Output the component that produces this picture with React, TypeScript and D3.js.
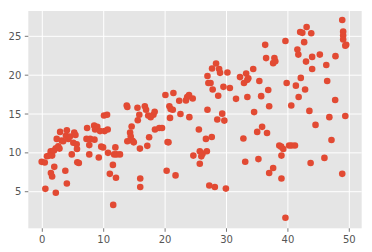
import React from "react";
import * as d3 from "d3";

const xs: number[] = [
  -0.1, 0.4, 0.5, 0.77, 1.1, 1.37, 1.4, 1.6, 1.6, 1.9, 1.95, 2.2, 2.2, 2.35, 2.6, 2.8, 2.9, 3.15, 3.4, 3.75,
  3.85, 4.0, 4.0, 4.25, 4.5, 4.8, 5.05, 5.2, 5.4, 5.6, 5.65, 5.7, 5.95, 7.2, 7.3, 7.65, 7.65, 7.8, 8.45, 8.6,
  8.5, 8.95, 9.2, 9.4, 9.6, 9.9, 10.05, 10.15, 10.55, 10.65, 10.7, 11.0, 11.5, 11.55, 11.7, 11.9, 12.0, 12.1, 12.65,
  13.75, 13.85, 13.85, 14.3, 14.4, 14.55, 14.7, 14.9, 15.5, 15.55, 15.8, 15.9, 15.95, 15.95, 16.7, 16.9, 17.1,
  17.25, 17.4, 17.65, 18.1, 18.3, 18.35, 19.05, 19.5, 20.05, 20.25, 20.4, 20.55, 20.7, 20.9, 20.8, 21.25, 21.35,
  21.7, 22.3, 22.5, 23.4, 23.6, 23.9, 23.95, 24.5, 24.6, 25.5, 25.65, 25.65, 25.9, 26.1, 26.65, 26.8, 26.9, 26.9,
  27.05, 27.4, 27.2, 27.6, 27.65, 27.75, 28.1, 28.3, 28.5, 28.65, 28.8, 28.95, 29.3, 29.5, 29.65, 29.9, 30.15,
  30.55, 31.55, 32.2, 32.75, 33.05, 32.85, 33.2, 33.4, 33.55, 33.4,
  34.35, 34.5, 35.0, 35.2, 35.35, 35.65, 35.8, 36.3, 36.45, 36.6, 36.8, 36.95, 36.95, 37.6, 37.6, 37.8, 37.95,
  38.6, 38.9, 39.25, 38.95, 38.95, 39.6, 39.6, 39.8, 40.2, 40.6, 41.15, 40.55, 41.3, 41.55, 41.7, 41.75, 42.1,
  42.0, 42.35, 42.65, 42.8, 42.95, 43.05, 43.5, 43.7, 43.8, 43.95, 43.95, 44.5, 45.2, 45.95, 46.25, 46.4, 46.75,
  47.1, 47.7, 47.75, 48.85, 48.85, 49.0, 49.0, 49.0, 49.35, 49.5, 49.35,
];

const ys: number[] = [
  8.84, 8.75, 5.37, 9.56, 9.65, 10.2, 7.4, 6.95, 9.65, 10.3, 8.2, 4.86, 10.6, 11.8, 10.85, 10.55, 12.7, 11.6, 11.5, 7.7,
  12.2, 12.9, 6.05, 11.8, 12.1, 9.8, 11.3, 12.6, 12.3, 11.1, 10.5, 8.8, 8.7, 11.8, 13.2, 11.0, 9.8, 11.8, 13.5, 13.0,
  11.7, 13.35, 9.4, 12.8, 10.8, 10.7, 14.8, 12.8, 14.9, 13.0, 10.0, 7.3, 8.45, 3.3, 9.8, 10.7, 6.8, 9.8, 9.8,
  16.1, 15.9, 11.5, 12.6, 12.1, 13.4, 11.55, 11.35, 15.8, 14.2, 14.9, 10.55, 6.7, 5.6, 16.0, 15.55, 10.9,
  14.8, 12.0, 14.6, 14.9, 15.3, 13.0, 13.2, 13.2, 17.45, 7.7, 11.4, 11.35, 16.0, 15.65, 14.5, 15.55, 17.7,
  7.1, 16.7, 15.0, 16.75, 17.2, 17.45, 14.6, 17.0, 9.65, 13.0, 10.2, 8.6, 9.55, 9.9, 11.8, 10.2, 15.55, 19.9,
  19.0, 19.0, 5.8, 12.05, 20.85, 18.15, 5.6, 21.5, 14.3, 17.35, 20.8, 20.3, 15.05, 18.5, 14.15, 5.4, 20.35,
  18.35, 16.95, 19.75, 11.85, 8.85, 19.0, 20.2, 19.4, 19.6, 17.2,
  20.8, 15.25, 12.7, 9.2, 19.25, 17.3, 13.35, 23.9, 22.2, 12.55, 18.1, 16.0, 7.4, 8.05, 21.55, 22.2, 21.8,
  10.95, 10.8, 10.5, 9.65, 6.7, 24.4, 1.65, 19.0, 10.95, 10.95, 10.95, 16.1, 18.65, 23.3, 22.65, 17.2, 19.65,
  25.55, 25.45, 24.25, 18.15, 21.75, 26.2, 15.4, 8.7, 25.4, 22.35, 20.8, 13.6, 22.65, 9.35, 21.3, 19.25, 14.6,
  11.65, 16.8, 22.45, 27.1, 7.3, 25.6, 25.1, 24.6, 23.8, 23.9, 14.75,
];

const xTicks: number[] = [0, 10, 20, 30, 40, 50];
const yTicks: number[] = [5, 10, 15, 20, 25];

const W = 372;
const H = 252;
const M = { left: 28.3, right: 361.7, top: 11, bottom: 228.3 };

export default function App() {
  const x = d3.scaleLinear().domain([-2.28, 52.02]).range([M.left, M.right]);
  const y = d3.scaleLinear().domain([0.29, 28.26]).range([M.bottom, M.top]);
  const pts = xs.map((v, i) => [v, ys[i]] as [number, number]);
  const font = "DejaVu Sans, sans-serif";
  return (
    <svg
      width={W}
      height={H}
      style={{ position: "absolute", left: 0, top: 0, background: "#ffffff" }}
    >
      <rect x={M.left} y={M.top} width={M.right - M.left} height={M.bottom - M.top} fill="#E5E5E5" />
      {xTicks.map((t) => (
        <line key={"gx" + t} x1={x(t)} x2={x(t)} y1={M.top} y2={M.bottom} stroke="#ffffff" strokeWidth={1} />
      ))}
      {yTicks.map((t) => (
        <line key={"gy" + t} x1={M.left} x2={M.right} y1={y(t)} y2={y(t)} stroke="#ffffff" strokeWidth={1} />
      ))}
      {pts.map((p, i) => (
        <circle key={i} cx={x(p[0])} cy={y(p[1])} r={3.3} fill="#E24A33" />
      ))}
      {xTicks.map((t) => (
        <g key={"tx" + t}>
          <line x1={x(t)} x2={x(t)} y1={M.bottom} y2={M.bottom + 3.5} stroke="#555555" strokeWidth={0.8} />
          <text
            x={x(t)}
            y={M.bottom + 14.5}
            textAnchor="middle"
            fontFamily={font}
            fontSize={10}
            fill="#555555"
          >
            {t}
          </text>
        </g>
      ))}
      {yTicks.map((t) => (
        <g key={"ty" + t}>
          <line x1={M.left - 3.5} x2={M.left} y1={y(t)} y2={y(t)} stroke="#555555" strokeWidth={0.8} />
          <text
            x={M.left - 7}
            y={y(t)}
            dy="0.35em"
            textAnchor="end"
            fontFamily={font}
            fontSize={10}
            fill="#555555"
          >
            {t}
          </text>
        </g>
      ))}
    </svg>
  );
}
